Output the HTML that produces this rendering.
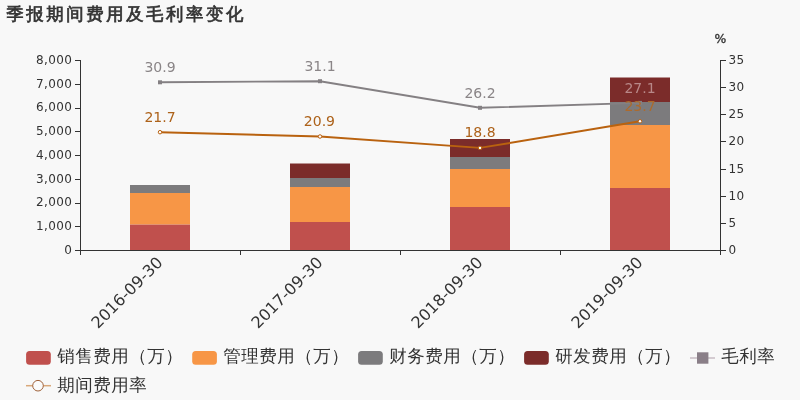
<!DOCTYPE html>
<html lang="zh">
<head>
<meta charset="utf-8">
<title>季报期间费用及毛利率变化</title>
<style>
html,body{margin:0;padding:0;background:#f8f8f8;}
body{width:800px;height:400px;overflow:hidden;}
svg{display:block;}
.num{font-family:"DejaVu Sans","Liberation Sans",sans-serif;}
.cjk{font-family:"Liberation Sans","WenQuanYi Zen Hei","Noto Sans CJK SC",sans-serif;}
</style>
</head>
<body>
<svg width="800" height="400" viewBox="0 0 800 400">
<rect x="0" y="0" width="800" height="400" fill="#f8f8f8"/>

<!-- title -->
<text class="cjk" x="6.2" y="20" font-size="17.4" letter-spacing="2.6" fill="#333" stroke="#333" stroke-width="0.7">季报期间费用及毛利率变化</text>

<!-- bars -->
<g>
 <!-- 2016 -->
 <rect x="130" y="224.4" width="60" height="25.6" fill="#c0504d"/>
 <rect x="130" y="193" width="60" height="31.4" fill="#f79646"/>
 <rect x="130" y="185" width="60" height="8" fill="#7c7b7d"/>
 <!-- 2017 -->
 <rect x="290" y="222" width="60" height="28" fill="#c0504d"/>
 <rect x="290" y="187" width="60" height="35" fill="#f79646"/>
 <rect x="290" y="178" width="60" height="9" fill="#7c7b7d"/>
 <rect x="290" y="163.5" width="60" height="14.5" fill="#7b2c2a"/>
 <!-- 2018 -->
 <rect x="450" y="207" width="60" height="43" fill="#c0504d"/>
 <rect x="450" y="169" width="60" height="38" fill="#f79646"/>
 <rect x="450" y="157" width="60" height="12" fill="#7c7b7d"/>
 <rect x="450" y="139" width="60" height="18" fill="#7b2c2a"/>
 <!-- 2019 -->
 <rect x="610" y="188" width="60" height="62" fill="#c0504d"/>
 <rect x="610" y="125" width="60" height="63" fill="#f79646"/>
 <rect x="610" y="102" width="60" height="23" fill="#7c7b7d"/>
 <rect x="610" y="77.5" width="60" height="24.5" fill="#7b2c2a"/>
</g>

<!-- axes -->
<g stroke="#333" stroke-width="1" fill="none" shape-rendering="crispEdges">
 <line x1="80.5" y1="60" x2="80.5" y2="250"/>
 <line x1="720.5" y1="60" x2="720.5" y2="250"/>
 <line x1="80" y1="250.5" x2="721" y2="250.5"/>
 <!-- left ticks -->
 <path d="M75 60.5H80M75 84.5H80M75 108.5H80M75 131.5H80M75 155.5H80M75 179.5H80M75 203.5H80M75 226.5H80M75 250.5H80"/>
 <!-- right ticks -->
 <path d="M721 60.5H726M721 87.5H726M721 114.5H726M721 141.5H726M721 169.5H726M721 196.5H726M721 223.5H726M721 250.5H726"/>
 <!-- x ticks -->
 <path d="M80.5 251V255M240.5 251V255M400.5 251V255M560.5 251V255M720.5 251V255"/>
</g>

<!-- left labels -->
<g class="num" font-size="12" fill="#333" text-anchor="end" letter-spacing="0.37">
 <text x="72.2" y="63.7">8,000</text>
 <text x="72.2" y="87.5">7,000</text>
 <text x="72.2" y="111.2">6,000</text>
 <text x="72.2" y="135.0">5,000</text>
 <text x="72.2" y="158.7">4,000</text>
 <text x="72.2" y="182.5">3,000</text>
 <text x="72.2" y="206.2">2,000</text>
 <text x="72.2" y="230.0">1,000</text>
 <text x="72.2" y="253.7">0</text>
</g>
<!-- right labels -->
<g class="num" font-size="12" fill="#333" text-anchor="start" letter-spacing="0.37">
 <text x="728.6" y="63.9">35</text>
 <text x="728.6" y="91.0">30</text>
 <text x="728.6" y="118.2">25</text>
 <text x="728.6" y="145.3">20</text>
 <text x="728.6" y="172.5">15</text>
 <text x="728.6" y="199.6">10</text>
 <text x="728.6" y="226.8">5</text>
 <text x="728.6" y="253.9">0</text>
 <text x="720.4" y="43.2" text-anchor="middle" font-size="12.4" stroke="#333" stroke-width="0.35" letter-spacing="0">%</text>
</g>

<!-- x labels -->
<g class="num" font-size="16" fill="#333" text-anchor="end">
 <text transform="translate(159.6,259.5) rotate(-45)" y="5.8">2016-09-30</text>
 <text transform="translate(319.6,259.5) rotate(-45)" y="5.8">2017-09-30</text>
 <text transform="translate(479.6,259.5) rotate(-45)" y="5.8">2018-09-30</text>
 <text transform="translate(639.6,259.5) rotate(-45)" y="5.8">2019-09-30</text>
</g>

<!-- gray line -->
<polyline points="160,82.3 320,81.2 480,107.8 640,102.9" fill="none" stroke="#848083" stroke-width="1.9"/>
<g fill="#848083">
 <rect x="158" y="80.3" width="4" height="4"/>
 <rect x="318" y="79.2" width="4" height="4"/>
 <rect x="478" y="105.8" width="4" height="4"/>
 <rect x="638" y="100.9" width="4" height="4"/>
</g>
<g class="num" font-size="14" fill="#8a8587" text-anchor="middle">
 <text x="160" y="72.3">30.9</text>
 <text x="320" y="71.2">31.1</text>
 <text x="480" y="97.8">26.2</text>
 <text x="640" y="92.9" fill="#b88888">27.1</text>
</g>

<!-- orange line -->
<polyline points="160,132.2 320,136.5 480,147.9 640,121.3" fill="none" stroke="#b9620f" stroke-width="1.9"/>
<g fill="#fff" stroke="#b8600f" stroke-width="1">
 <circle cx="160" cy="132.2" r="1.75"/>
 <circle cx="320" cy="136.5" r="1.75"/>
 <circle cx="480" cy="147.9" r="1.75"/>
 <circle cx="640" cy="121.3" r="1.75"/>
</g>
<g class="num" font-size="14" fill="#ad621a" text-anchor="middle">
 <text x="160" y="122.2">21.7</text>
 <text x="319.4" y="125.6">20.9</text>
 <text x="480" y="137">18.8</text>
 <text x="640" y="111.3" fill="#ad6a2c">23.7</text>
</g>

<!-- legend -->
<g>
 <rect x="26.1" y="351.1" width="24.7" height="13.7" rx="3.5" fill="#c0504d"/>
 <rect x="192.2" y="351.1" width="24.7" height="13.7" rx="3.5" fill="#f79646"/>
 <rect x="358.1" y="351.1" width="24.7" height="13.7" rx="3.5" fill="#7c7b7d"/>
 <rect x="524.1" y="351.1" width="24.7" height="13.7" rx="3.5" fill="#7b2c2a"/>
 <line x1="690" y1="358" x2="715" y2="358" stroke="#c8bcc4" stroke-width="1.5"/>
 <rect x="697" y="352.3" width="11.4" height="11.4" fill="#8a7f88"/>
 <line x1="26" y1="385.7" x2="51" y2="385.7" stroke="#d9a87a" stroke-width="1.5"/>
 <circle cx="38" cy="385.7" r="5.3" fill="#fbfbfb" stroke="#a0623a" stroke-width="1"/>
</g>
<g class="cjk" font-size="17.5" letter-spacing="0.5" fill="#333">
 <text x="57.3" y="362">销售费用（万）</text>
 <text x="223.3" y="362">管理费用（万）</text>
 <text x="389.3" y="362">财务费用（万）</text>
 <text x="555.3" y="362">研发费用（万）</text>
 <text x="721.3" y="362">毛利率</text>
 <text x="57.3" y="391.3">期间费用率</text>
</g>
</svg>
</body>
</html>
